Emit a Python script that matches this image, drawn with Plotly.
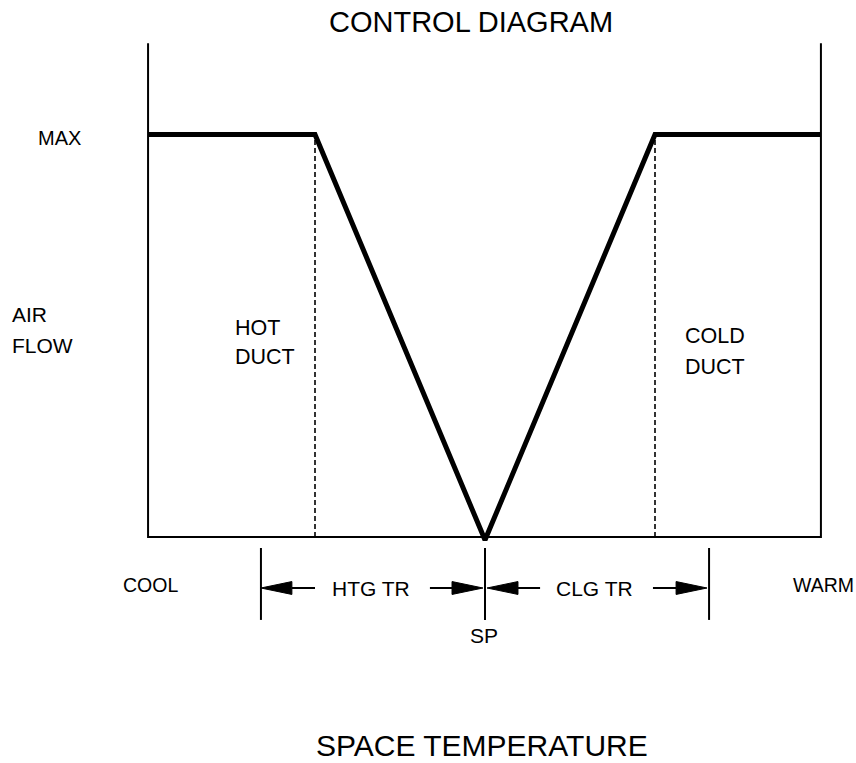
import plotly.graph_objects as go

# ---- data: temperature offset from set point (x), air flow % (y) ----
temp_pts = [-19.82, -10.0, 0.0, 10.0, 19.76]
airflow_pts = [100, 100, -0.75, 100, 100]
frame_left, frame_right = -19.82, 19.76
frame_top = 122.7
duct_break = [-10.0, 10.0]
tr_ends = [-13.18, 13.18]
sp_x = 0.0
tr_tick_y = [-2.73, -20.6]
arrow_y = -12.67
# arrows: (tip, tail)
arrows = [(-13.18, -10.0), (-0.12, -3.24), (0.12, 3.24), (13.06, 9.88)]

# style constants
HEAD_LEN = 1.82   # x units
HEAD_HALF = 1.6   # y units
FONT = "Liberation Sans, Arial, Helvetica, sans-serif"

fig = go.Figure()

def line(xs, ys, width=2, dash=None):
    fig.add_trace(go.Scatter(x=xs, y=ys, mode="lines", hoverinfo="skip",
                             line=dict(color="black", width=width, dash=dash)))

# frame
line([frame_left, frame_left, frame_right, frame_right], [frame_top, 0, 0, frame_top], 2)
# dashed duct breaks
for xb in duct_break:
    line([xb, xb], [0, 100], 1.6, "5px,3px")
# main air flow curve
fig.add_trace(go.Scatter(x=temp_pts, y=airflow_pts, mode="lines", hoverinfo="skip",
                         line=dict(color="black", width=5)))
# throttling range ticks and SP
for xt in tr_ends + [sp_x]:
    line([xt, xt], tr_tick_y, 2)
# arrows with filled heads
for tip, tail in arrows:
    d = 1 if tip > tail else -1
    base = tip - d * HEAD_LEN
    line([tail, base], [arrow_y, arrow_y], 2)
    fig.add_trace(go.Scatter(x=[tip, base, base, tip],
                             y=[arrow_y, arrow_y + HEAD_HALF, arrow_y - HEAD_HALF, arrow_y],
                             mode="lines", fill="toself", fillcolor="black", hoverinfo="skip",
                             line=dict(color="black", width=1)))

anns = []
def txt(s, x, y, size, xanchor="center"):
    anns.append(dict(text=s, x=x, y=y, xref="x", yref="y", showarrow=False,
                     font=dict(family=FONT, size=size, color="black"),
                     xanchor=xanchor, yanchor="middle", borderpad=0))

txt("CONTROL DIAGRAM", -0.82, 127.9, 29)
txt("SPACE TEMPERATURE", -0.18, -51.7, 30)
txt("MAX", -26.35, 99.25, 20, "left")
txt("AIR", -27.9, 55.3, 21, "left")
txt("FLOW", -27.9, 47.6, 21, "left")
txt("HOT", -14.75, 52.05, 21.5, "left")
txt("DUCT", -14.75, 44.6, 21.5, "left")
txt("COLD", 11.7, 49.9, 21.5, "left")
txt("DUCT", 11.7, 42.2, 21.5, "left")
txt("COOL", -21.35, -11.93, 19.5, "left")
txt("WARM", 18.05, -11.93, 19.5, "left")
txt("HTG TR", -6.71, -12.67, 21)
txt("CLG TR", 6.47, -12.67, 21)
txt("SP", -0.06, -24.35, 21)

fig.update_layout(
    width=856, height=763, margin=dict(l=0, r=0, t=0, b=0),
    paper_bgcolor="white", plot_bgcolor="white", showlegend=False,
    xaxis=dict(range=[-485/17, (856-485)/17], visible=False, fixedrange=True),
    yaxis=dict(range=[(537-763)/4.025, 537/4.025], visible=False, fixedrange=True),
    annotations=anns,
)
fig.write_html("out.html", config={"displayModeBar": False},
               post_script="document.body.style.margin='0';document.body.style.overflow='hidden';")
